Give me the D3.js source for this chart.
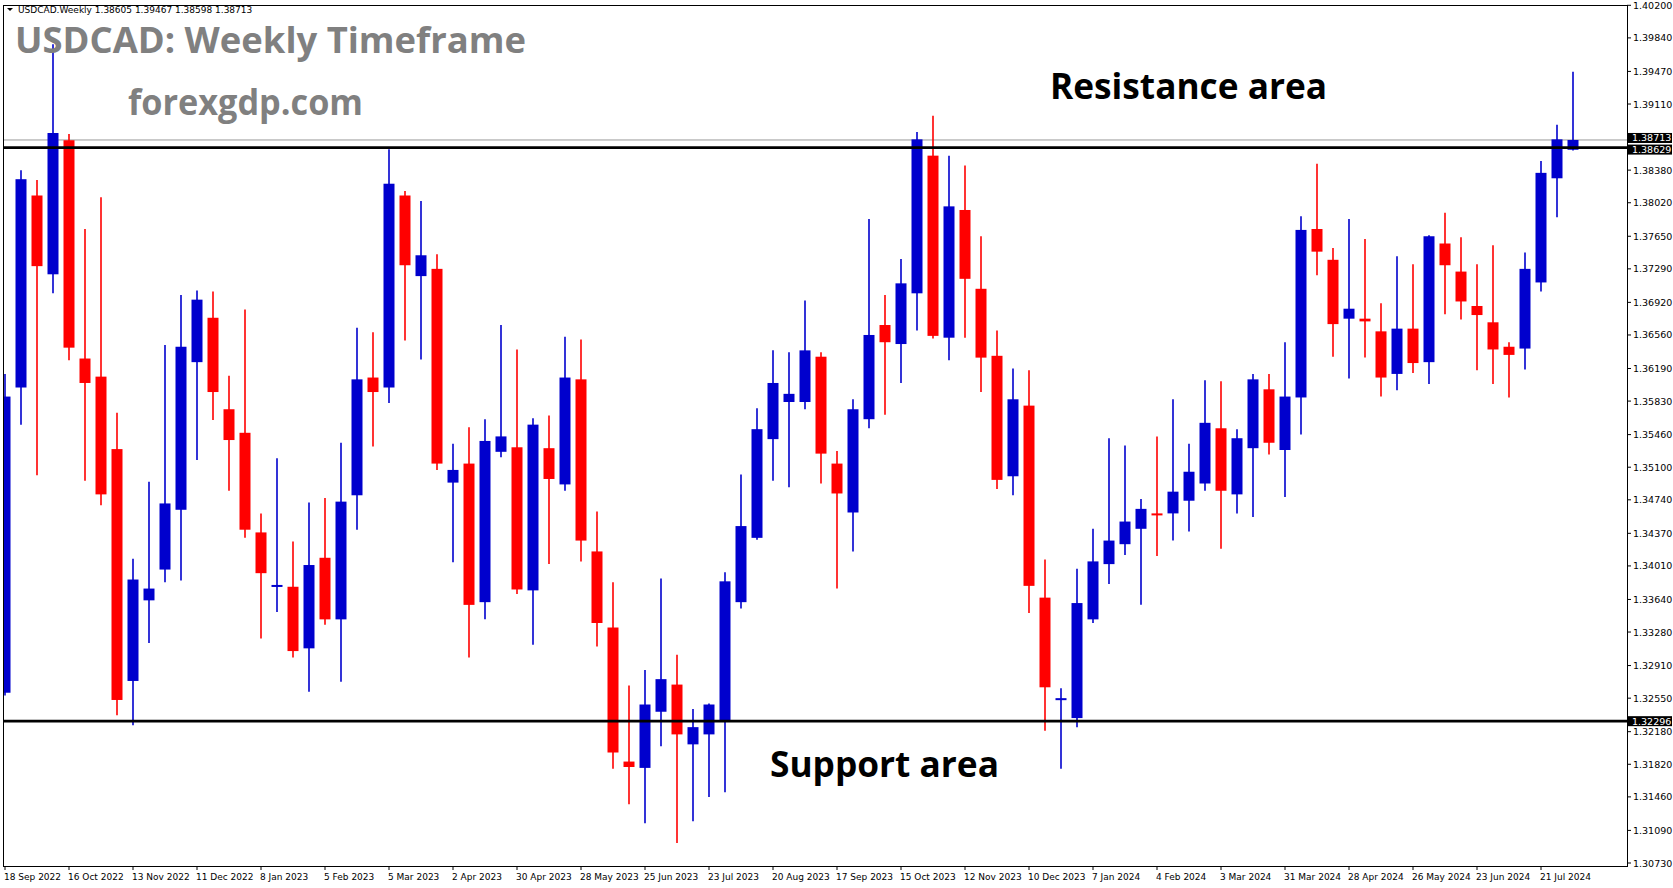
<!DOCTYPE html>
<html><head><meta charset="utf-8">
<script src="https://cdn.jsdelivr.net/npm/d3@7/dist/d3.min.js"></script>
<style>body{margin:0;background:#fff;overflow:hidden}svg{display:block}</style>
</head><body><svg id="c" width="1673" height="888"></svg>
<script>
const opens  = [1.3261,1.3598,1.3810,1.3723,1.3871,1.3630,1.3610,1.3530,1.3274,1.3363,1.3397,1.3463,1.3626,1.3675,1.3574,1.3548,1.3438,1.3379,1.3378,1.3310,1.3410,1.3342,1.3479,1.3609,1.3598,1.3810,1.3721,1.3729,1.3493,1.3514,1.3361,1.3527,1.3532,1.3374,1.3531,1.3491,1.3607,1.3417,1.3333,1.3185,1.3178,1.3240,1.3270,1.3204,1.3215,1.3230,1.3361,1.3432,1.3541,1.3582,1.3582,1.3632,1.3514,1.3460,1.3563,1.3667,1.3646,1.3702,1.3854,1.3653,1.3794,1.3707,1.3633,1.3500,1.3578,1.3366,1.3254,1.3233,1.3342,1.3403,1.3425,1.3442,1.3459,1.3459,1.3473,1.3492,1.3553,1.3480,1.3531,1.3596,1.3529,1.3587,1.3773,1.3739,1.3674,1.3674,1.3660,1.3613,1.3663,1.3626,1.3757,1.3726,1.3688,1.3670,1.3643,1.3641,1.3714,1.3829,1.38605];
const highs  = [1.3613,1.3838,1.3827,1.3977,1.3878,1.3773,1.3808,1.3570,1.3409,1.3494,1.3645,1.3700,1.3705,1.3704,1.3611,1.3684,1.3459,1.3520,1.3428,1.3471,1.3476,1.3537,1.3664,1.3659,1.3861,1.3815,1.3804,1.3745,1.3536,1.3554,1.3563,1.3667,1.3640,1.3564,1.3567,1.3654,1.3651,1.3461,1.3383,1.3269,1.3286,1.3387,1.3303,1.3243,1.3249,1.3394,1.3502,1.3575,1.3639,1.3637,1.3694,1.3637,1.3528,1.3585,1.3784,1.3700,1.3740,1.3880,1.3898,1.3854,1.3843,1.3765,1.3661,1.3619,1.3617,1.3408,1.3266,1.3398,1.3442,1.3542,1.3534,1.3475,1.3544,1.3585,1.3536,1.3606,1.3605,1.3552,1.3613,1.3613,1.3648,1.3787,1.3845,1.3752,1.3784,1.3762,1.3691,1.3743,1.3734,1.3766,1.3791,1.3764,1.3734,1.3755,1.3648,1.3747,1.3848,1.3888,1.39467];
const lows   = [1.3258,1.3557,1.3501,1.3702,1.3628,1.3495,1.3468,1.3236,1.3225,1.3316,1.3383,1.3385,1.3518,1.3562,1.3484,1.3432,1.3321,1.3350,1.3300,1.3262,1.3336,1.3273,1.3441,1.3533,1.3581,1.3650,1.3629,1.3507,1.3405,1.3300,1.3342,1.3521,1.3370,1.3314,1.3403,1.3484,1.3406,1.3312,1.3177,1.3138,1.3117,1.3202,1.3095,1.3119,1.3146,1.3151,1.3354,1.3430,1.3495,1.3488,1.3574,1.3492,1.3376,1.3417,1.3553,1.3568,1.3603,1.3661,1.3652,1.3628,1.3653,1.3593,1.3486,1.3479,1.3349,1.3219,1.3177,1.3223,1.3338,1.3381,1.3413,1.3358,1.3412,1.3429,1.3439,1.3484,1.3420,1.3459,1.3455,1.3524,1.3477,1.3546,1.3722,1.3632,1.3608,1.3631,1.3588,1.3595,1.3614,1.3602,1.3679,1.3673,1.3617,1.3602,1.3587,1.3618,1.3704,1.3786,1.38598];
const closes = [1.3588,1.3828,1.3732,1.3879,1.3642,1.3603,1.3480,1.3253,1.3386,1.3376,1.3470,1.3643,1.3695,1.3593,1.3540,1.3441,1.3393,1.3380,1.3307,1.3402,1.3342,1.3472,1.3607,1.3593,1.3823,1.3733,1.3744,1.3514,1.3507,1.3358,1.3539,1.3544,1.3375,1.3557,1.3497,1.3609,1.3429,1.3338,1.3195,1.3179,1.3248,1.3276,1.3215,1.3223,1.3248,1.3384,1.3445,1.3552,1.3603,1.3591,1.3639,1.3525,1.3481,1.3574,1.3656,1.3648,1.3713,1.3872,1.3655,1.3798,1.3718,1.3631,1.3496,1.3585,1.3379,1.3267,1.3255,1.3360,1.3406,1.3429,1.3450,1.3464,1.3457,1.3483,1.3505,1.3559,1.3484,1.3542,1.3607,1.3537,1.3588,1.3772,1.3748,1.3668,1.3685,1.3671,1.3609,1.3663,1.3625,1.3765,1.3733,1.3693,1.3678,1.3640,1.3634,1.3729,1.3835,1.3872,1.38713];
const dateLabels = ["18 Sep 2022","16 Oct 2022","13 Nov 2022","11 Dec 2022","8 Jan 2023","5 Feb 2023","5 Mar 2023","2 Apr 2023","30 Apr 2023","28 May 2023","25 Jun 2023","23 Jul 2023","20 Aug 2023","17 Sep 2023","15 Oct 2023","12 Nov 2023","10 Dec 2023","7 Jan 2024","4 Feb 2024","3 Mar 2024","31 Mar 2024","28 Apr 2024","26 May 2024","23 Jun 2024","21 Jul 2024"];
const priceTicks = [1.40200,1.39840,1.39470,1.39110,1.38380,1.38020,1.37650,1.37290,1.36920,1.36560,1.36190,1.35830,1.35460,1.35100,1.34740,1.34370,1.34010,1.33640,1.33280,1.32910,1.32550,1.32180,1.31820,1.31460,1.31090,1.30730];
const resistance = 1.38629, support = 1.32296, lastPrice = 1.38713;

const svg = d3.select("#c");
const plotR=1627, plotT=5, plotB=866;
const n = opens.length;
const x = d3.scaleLinear().domain([0,n-1]).range([5,5+16*(n-1)]);
const y = d3.scaleLinear().domain([1.3073,1.402]).range([863,5.3]);
const blue="#0000CD", red="#FF0000";

svg.append("rect").attr("x",3.5).attr("y",plotT+0.5).attr("width",plotR-3).attr("height",plotB-plotT).attr("fill","none").attr("stroke","#000").attr("stroke-width",1);

const g = svg.append("g");
svg.append("clipPath").attr("id","cp").append("rect").attr("x",4).attr("y",plotT+1).attr("width",plotR-4).attr("height",plotB-plotT-1);
g.attr("clip-path","url(#cp)");

g.append("line").attr("x1",4).attr("x2",plotR).attr("y1",y(lastPrice)).attr("y2",y(lastPrice)).attr("stroke","#9a9a9a").attr("stroke-width",1);

const idx = d3.range(n);
g.selectAll(".wick").data(idx).join("line")
  .attr("x1",i=>x(i)).attr("x2",i=>x(i))
  .attr("y1",i=>y(highs[i])).attr("y2",i=>y(lows[i]))
  .attr("stroke",i=>closes[i]>=opens[i]?blue:red).attr("stroke-width",1.6);
g.selectAll(".body").data(idx).join("rect")
  .attr("x",i=>x(i)-5.5).attr("width",11)
  .attr("y",i=>y(Math.max(opens[i],closes[i])))
  .attr("height",i=>Math.max(2,Math.abs(y(opens[i])-y(closes[i]))))
  .attr("fill",i=>closes[i]>=opens[i]?blue:red);

[resistance,support].forEach(v=>{
  g.append("line").attr("x1",4).attr("x2",plotR).attr("y1",y(v)).attr("y2",y(v)).attr("stroke","#000").attr("stroke-width",2.6);
});

const ax = svg.append("g").attr("font-family","Tahoma, 'DejaVu Sans', sans-serif").attr("font-size",9.5).attr("fill","#000");
priceTicks.forEach(v=>{
  ax.append("line").attr("x1",plotR).attr("x2",plotR+4).attr("y1",y(v)).attr("y2",y(v)).attr("stroke","#000");
  ax.append("text").attr("x",plotR+6).attr("y",y(v)+3.5).text(v.toFixed(5));
});
[[lastPrice,-2],[resistance,2],[support,0]].forEach(([v,dy])=>{
  const yy=y(v)+dy;
  ax.append("rect").attr("x",plotR+1).attr("y",yy-5).attr("width",44).attr("height",10).attr("fill","#000");
  ax.append("text").attr("x",plotR+5).attr("y",yy+3.5).attr("fill","#fff").text(v.toFixed(5));
});

const dx = svg.append("g").attr("font-family","Tahoma, 'DejaVu Sans', sans-serif").attr("font-size",9).attr("fill","#000");
dateLabels.forEach((t,k)=>{
  const xx = x(4*k);
  dx.append("line").attr("x1",xx).attr("x2",xx).attr("y1",plotB).attr("y2",plotB+4).attr("stroke","#000");
  dx.append("text").attr("x",xx-1).attr("y",880).text(t);
});

svg.append("path").attr("d","M7,8 L13,8 L10,11 Z").attr("fill","#000");
svg.append("text").attr("x",18).attr("y",13).attr("font-family","Tahoma, 'DejaVu Sans', sans-serif").attr("font-size",9).text("USDCAD.Weekly  1.38605 1.39467 1.38598 1.38713");

const T=(s,xx,yy,fs,len,col)=>svg.append("text").attr("x",xx).attr("y",yy).attr("font-family","'Open Sans','DejaVu Sans',sans-serif").attr("font-weight","bold").attr("font-size",fs).attr("fill",col).attr("textLength",len).attr("lengthAdjust","spacingAndGlyphs").text(s);
T("USDCAD: Weekly Timeframe",15,53,35,511,"#808080");
T("forexgdp.com",128,115,35,235,"#808080");
T("Resistance area",1050,99,36,277,"#000");
T("Support area",770,777,36,229,"#000");
</script></body></html>
